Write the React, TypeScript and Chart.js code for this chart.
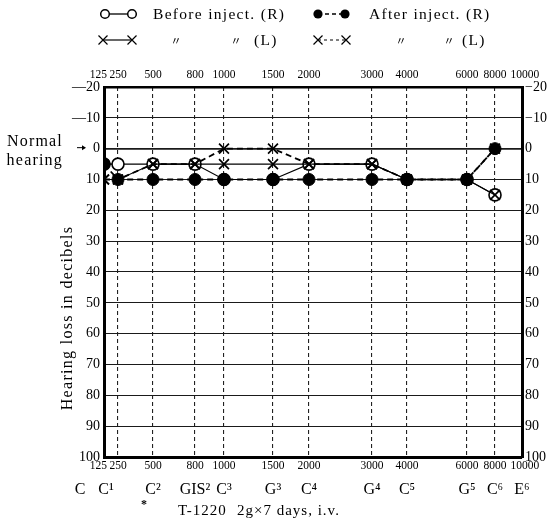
import React, { useEffect, useRef } from 'react';
import { Chart, registerables } from 'chart.js';

Chart.register(...registerables);

// Frequencies printed on the audiogram (Hz)
const frequencies = [125, 250, 500, 800, 1000, 1500, 2000, 3000, 4000, 6000, 8000, 10000];
// The printed audiogram uses a non-uniform frequency scale: stop of each frequency along the axis
const frequencyScaleStops = [0, 14, 49, 91, 120, 169, 205, 268, 303, 363, 391, 418];
// Musical note names printed under the frequencies
const noteNames = ['C', 'C¹', 'C²', 'GIS²', 'C³', 'G³', 'C⁴', 'G⁴', 'C⁵', 'G⁵', 'C⁶', 'E⁶'];

// Measured frequencies and hearing loss (dB)
const measuredFreqs = [125, 250, 500, 800, 1000, 1500, 2000, 3000, 4000, 6000, 8000];
const beforeRight = [5, 5, 5, 5, 10, 10, 5, 5, 10, 10, 15];
const afterRight = [5, 10, 10, 10, 10, 10, 10, 10, 10, 10, 0];
const beforeLeft = [10, 10, 5, 5, 5, 5, 5, 5, 10, 10, 15];
const afterLeft = [10, 10, 5, 5, 0, 0, 5, 5, 10, 10, 0];

const dbMin = -20;
const dbMax = 100;

const SERIF = '"Liberation Serif", "DejaVu Serif", serif';
const CJK = '"Noto Sans CJK JP", "Noto Sans CJK SC", sans-serif';

const stopOf = (f: number) => frequencyScaleStops[frequencies.indexOf(f)];
const toPoints = (vals: number[]) => measuredFreqs.map((f, i) => ({ x: stopOf(f), y: vals[i] }));
const setStopTicks = (scale: any) => {
  scale.ticks = frequencyScaleStops.map((v) => ({ value: v }));
};
const freqLabel = (v: number) => {
  const i = frequencyScaleStops.indexOf(v);
  if (i < 0) return '';
  if (i === 0) return String(frequencies[i]) + '\u2002\u2002';
  if (i === frequencies.length - 1) return '\u2002' + String(frequencies[i]);
  return String(frequencies[i]);
};
const noteLabel = (v: number) => {
  const i = frequencyScaleStops.indexOf(v);
  if (i < 0) return '';
  if (i === 0) return noteNames[i] + '\u2003\u2003\u2003';
  if (i === 1) return noteNames[i] + '\u2003\u2002';
  return noteNames[i];
};

function drawX(ctx: CanvasRenderingContext2D, x: number, y: number, r: number) {
  ctx.beginPath();
  ctx.moveTo(x - r, y - r);
  ctx.lineTo(x + r, y + r);
  ctx.moveTo(x + r, y - r);
  ctx.lineTo(x - r, y + r);
  ctx.stroke();
}

const textPlugin = {
  id: 'audiogramText',
  afterDraw(chart: any) {
    const ctx: CanvasRenderingContext2D = chart.ctx;
    ctx.save();
    ctx.fillStyle = '#000';
    ctx.strokeStyle = '#000';
    ctx.textBaseline = 'middle';
    ctx.textAlign = 'left';

    // ---- legend ----
    const y1 = 14;
    const y2 = 40;
    // before (R): open circles, solid
    ctx.lineWidth = 1.3;
    ctx.setLineDash([]);
    ctx.beginPath(); ctx.moveTo(105, y1); ctx.lineTo(132, y1); ctx.stroke();
    ctx.lineWidth = 1.5;
    for (const cx of [105, 132]) {
      ctx.beginPath(); ctx.arc(cx, y1, 4.3, 0, Math.PI * 2);
      ctx.fillStyle = '#fff'; ctx.fill(); ctx.stroke();
    }
    ctx.fillStyle = '#000';
    // after (R): filled circles, dashed
    ctx.lineWidth = 1.6;
    ctx.setLineDash([4, 3]);
    ctx.beginPath(); ctx.moveTo(318, y1); ctx.lineTo(345, y1); ctx.stroke();
    ctx.setLineDash([]);
    for (const cx of [318, 345]) {
      ctx.beginPath(); ctx.arc(cx, y1, 4.6, 0, Math.PI * 2); ctx.fill();
    }
    // before (L): crosses, solid
    ctx.lineWidth = 1.2;
    ctx.beginPath(); ctx.moveTo(103, y2); ctx.lineTo(132, y2); ctx.stroke();
    drawX(ctx, 103, y2, 4.5); drawX(ctx, 132, y2, 4.5);
    // after (L): crosses, dashed
    ctx.setLineDash([3, 3]);
    ctx.beginPath(); ctx.moveTo(318, y2); ctx.lineTo(346, y2); ctx.stroke();
    ctx.setLineDash([]);
    drawX(ctx, 318, y2, 4.5); drawX(ctx, 346, y2, 4.5);

    (ctx as any).letterSpacing = '1.3px';
    ctx.font = `15.5px ${SERIF}`;
    ctx.fillText('Before inject. (R)', 153, y1 + 1);
    ctx.fillText('After inject. (R)', 369, y1 + 1);
    ctx.fillText('(L)', 254, y2 + 1);
    ctx.fillText('(L)', 462, y2 + 1);
    (ctx as any).letterSpacing = '0px';
    ctx.font = `11px ${CJK}`;
    ctx.textAlign = 'center';
    ctx.fillText('〃', 176, y2 + 1);
    ctx.fillText('〃', 236, y2 + 1);
    ctx.fillText('〃', 401, y2 + 1);
    ctx.fillText('〃', 449, y2 + 1);

    // ---- normal hearing ----
    const y0 = chart.scales.y.getPixelForValue(0);
    ctx.textAlign = 'right';
    (ctx as any).letterSpacing = '1.2px';
    ctx.font = `16px ${SERIF}`;
    ctx.fillText('Normal', 63, y0 - 7);
    ctx.fillText('hearing', 63, y0 + 12);
    (ctx as any).letterSpacing = '0px';
    ctx.lineWidth = 1;
    ctx.beginPath(); ctx.moveTo(77, y0 - 1); ctx.lineTo(85, y0 - 1); ctx.stroke();
    ctx.beginPath(); ctx.moveTo(86, y0 - 1); ctx.lineTo(82, y0 - 3.5); ctx.lineTo(82, y0 + 1.5); ctx.closePath(); ctx.fill();

    // ---- axis title ----
    ctx.save();
    ctx.translate(68, 318);
    ctx.rotate(-Math.PI / 2);
    ctx.textAlign = 'center';
    (ctx as any).letterSpacing = '1.3px';
    ctx.font = `16px ${SERIF}`;
    ctx.fillText('Hearing loss in decibels', 0, 0);
    ctx.restore();

    // ---- footer ----
    ctx.textAlign = 'left';
    ctx.font = `bold 12px ${SERIF}`;
    ctx.fillText('*', 141, 505);
    (ctx as any).letterSpacing = '1px';
    ctx.font = `15px ${SERIF}`;
    ctx.fillText('T-1220', 178, 511);
    ctx.fillText('2g×7 days, i.v.', 237, 511);
    ctx.restore();
  },
};

export default function App() {
  const ref = useRef<HTMLCanvasElement>(null);
  useEffect(() => {
    if (!ref.current) return;
    const lineBase = {
      borderColor: '#000',
      pointBorderColor: '#000',
      clip: 0,
      tension: 0,
      fill: false,
    };
    const chart = new Chart(ref.current, {
      type: 'line',
      data: {
        datasets: [
          {
            ...lineBase,
            label: 'Before inject. (R)',
            data: toPoints(beforeRight),
            order: 3,
            borderWidth: 1.2,
            pointStyle: 'circle',
            pointRadius: 6,
            pointBackgroundColor: '#fff',
            pointBorderWidth: 1.6,
          },
          {
            ...lineBase,
            label: 'After inject. (R)',
            data: toPoints(afterRight),
            order: 2,
            borderWidth: 1.8,
            borderDash: [6, 4],
            pointStyle: 'circle',
            pointRadius: 6,
            pointBackgroundColor: '#000',
            pointBorderWidth: 1,
          },
          {
            ...lineBase,
            label: 'Before inject. (L)',
            data: toPoints(beforeLeft),
            order: 1,
            borderWidth: 1.1,
            pointStyle: 'crossRot',
            pointRadius: 7,
            pointBorderWidth: 1.7,
          },
          {
            ...lineBase,
            label: 'After inject. (L)',
            data: toPoints(afterLeft),
            order: 0,
            borderWidth: 1.8,
            borderDash: [6, 4],
            pointStyle: 'crossRot',
            pointRadius: 7,
            pointBorderWidth: 1.7,
          },
        ] as any,
      },
      options: {
        animation: false,
        responsive: false,
        devicePixelRatio: 1,
        layout: { padding: 0 },
        plugins: {
          legend: { display: false },
          tooltip: { enabled: false },
          title: { display: false },
        },
        scales: {
          x: {
            type: 'linear',
            position: 'bottom',
            min: frequencyScaleStops[0],
            max: frequencyScaleStops[frequencyScaleStops.length - 1],
            afterBuildTicks: setStopTicks,
            afterFit: (s: any) => { s.height = 20; },
            ticks: {
              autoSkip: false,
              maxRotation: 0,
              padding: 2,
              color: '#000',
              font: { family: SERIF, size: 11.5 },
              callback: (v: any) => freqLabel(Number(v)),
            },
            grid: {
              drawTicks: false,
              color: (c: any) =>
                c.index === 0 || c.index === frequencyScaleStops.length - 1 ? 'rgba(0,0,0,0)' : '#222',
              lineWidth: 1.1,
            },
            border: { display: true, width: 3, color: '#000', dash: [4, 3] },
          },
          xNote: {
            type: 'linear',
            position: 'bottom',
            min: frequencyScaleStops[0],
            max: frequencyScaleStops[frequencyScaleStops.length - 1],
            afterBuildTicks: setStopTicks,
            afterFit: (s: any) => { s.height = 45; },
            ticks: {
              autoSkip: false,
              maxRotation: 0,
              padding: 3,
              color: '#000',
              font: { family: SERIF, size: 16 },
              callback: (v: any) => noteLabel(Number(v)),
            },
            grid: { display: false, drawTicks: false },
            border: { display: false },
          },
          xTop: {
            type: 'linear',
            position: 'top',
            min: frequencyScaleStops[0],
            max: frequencyScaleStops[frequencyScaleStops.length - 1],
            afterBuildTicks: setStopTicks,
            afterFit: (s: any) => { s.height = 87; },
            ticks: {
              autoSkip: false,
              maxRotation: 0,
              padding: 5,
              color: '#000',
              font: { family: SERIF, size: 11.5 },
              callback: (v: any) => freqLabel(Number(v)),
            },
            grid: { display: false, drawTicks: false },
            border: { display: true, width: 2.5, color: '#000' },
          },
          y: {
            type: 'linear',
            position: 'left',
            reverse: true,
            min: dbMin,
            max: dbMax,
            afterFit: (s: any) => { s.width = 104; },
            ticks: {
              stepSize: 5,
              padding: 4,
              color: '#000',
              font: { family: SERIF, size: 14 },
              callback: (v: any) => {
                const n = Number(v);
                if (n % 10 !== 0) return '';
                return n < 0 ? '—' + Math.abs(n) : String(n);
              },
            },
            grid: {
              drawTicks: false,
              color: '#1a1a1a',
              lineWidth: (c: any) => (c.tick && c.tick.value === 0 ? 1.8 : 1.1),
            },
            border: { display: true, width: 3, color: '#000' },
          },
          yRight: {
            type: 'linear',
            position: 'right',
            reverse: true,
            min: dbMin,
            max: dbMax,
            afterFit: (s: any) => { s.width = 33; },
            ticks: {
              stepSize: 10,
              padding: 3,
              color: '#000',
              font: { family: SERIF, size: 14 },
              callback: (v: any) => {
                const n = Number(v);
                return n < 0 ? '−' + Math.abs(n) : String(n);
              },
            },
            grid: { display: false, drawTicks: false },
            border: { display: true, width: 3, color: '#000' },
          },
        },
      } as any,
      plugins: [textPlugin],
    });
    return () => chart.destroy();
  }, []);

  return (
    <div style={{ position: 'absolute', left: 0, top: 0, width: 555, height: 522, background: '#fff' }}>
      <canvas ref={ref} width={555} height={522} style={{ display: 'block', width: 555, height: 522 }} />
    </div>
  );
}
